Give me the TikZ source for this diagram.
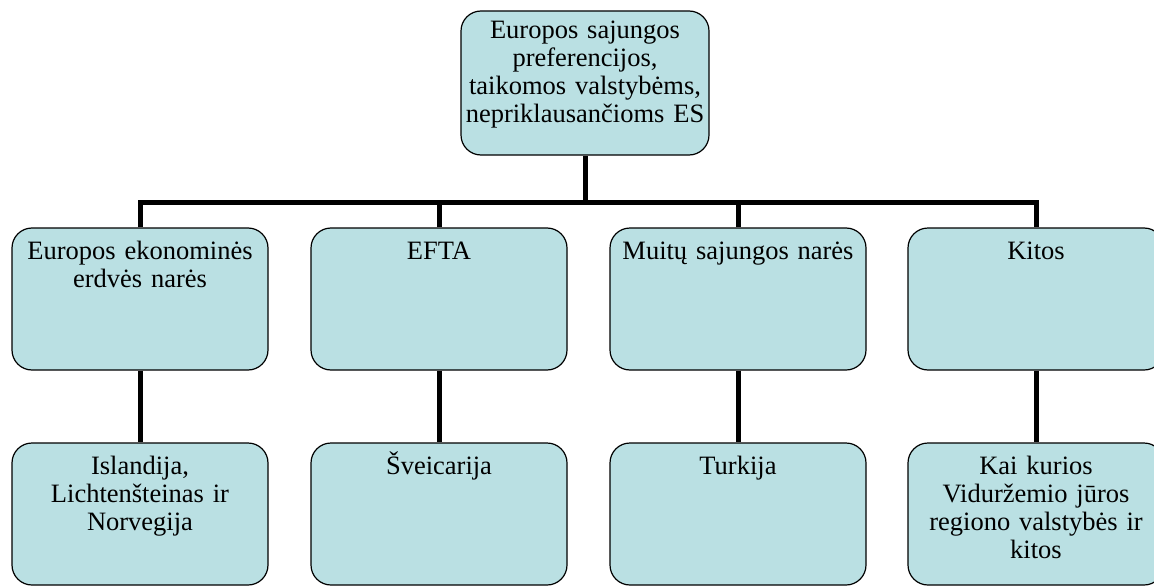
\documentclass[tikz,border=0pt]{standalone}
\usepackage{fontspec}
\setmainfont{Liberation Serif}
\definecolor{boxfill}{RGB}{186,224,227}

\begin{document}
\begin{tikzpicture}[x=1pt,y=1pt]

      \useasboundingbox (0,0) rectangle (1154,-586);

      \begin{scope}[every node/.style={draw, fill=boxfill, line width=1.2pt,
          rounded corners=20pt, align=center, inner sep=4pt,
          font=\fontsize{26.5}{28}\selectfont}]
        \node[minimum width=248pt, text width=240pt, text height=24pt,
            text depth=112pt] (0) at (585,-83)
          {Europos sajungos\\preferencijos,\\taikomos valstybėms,\\nepriklausančioms ES};
        \begin{scope}[every node/.append style={minimum width=256pt,
            text width=240pt, text height=27pt, text depth=107pt}]
          \node (1) at (140,-299)  {Europos ekonominės\\erdvės narės};
          \node (2) at (439,-299)  {EFTA};
          \node (3) at (738,-299)  {Muitų sajungos narės};
          \node (4) at (1036,-299) {Kitos};
          \node (5) at (140,-514)  {Islandija,\\Lichtenšteinas ir\\Norvegija};
          \node (6) at (439,-514)  {Šveicarija};
          \node (7) at (738,-514)  {Turkija};
          \node (8) at (1036,-514) {Kai kurios\\Viduržemio jūros\\regiono valstybės ir\\kitos};
        \end{scope}
      \end{scope}

      \coordinate (bar) at (585,-202);

      \begin{scope}[line width=5pt]
        \draw (0) -- (bar);
        \draw (1) |- (bar) -| (4);
        \draw (2) |- (bar);
        \draw (3) |- (bar);
        \draw (1) -- (5);
        \draw (2) -- (6);
        \draw (3) -- (7);
        \draw (4) -- (8);
      \end{scope}

    \end{tikzpicture}
\end{document}
